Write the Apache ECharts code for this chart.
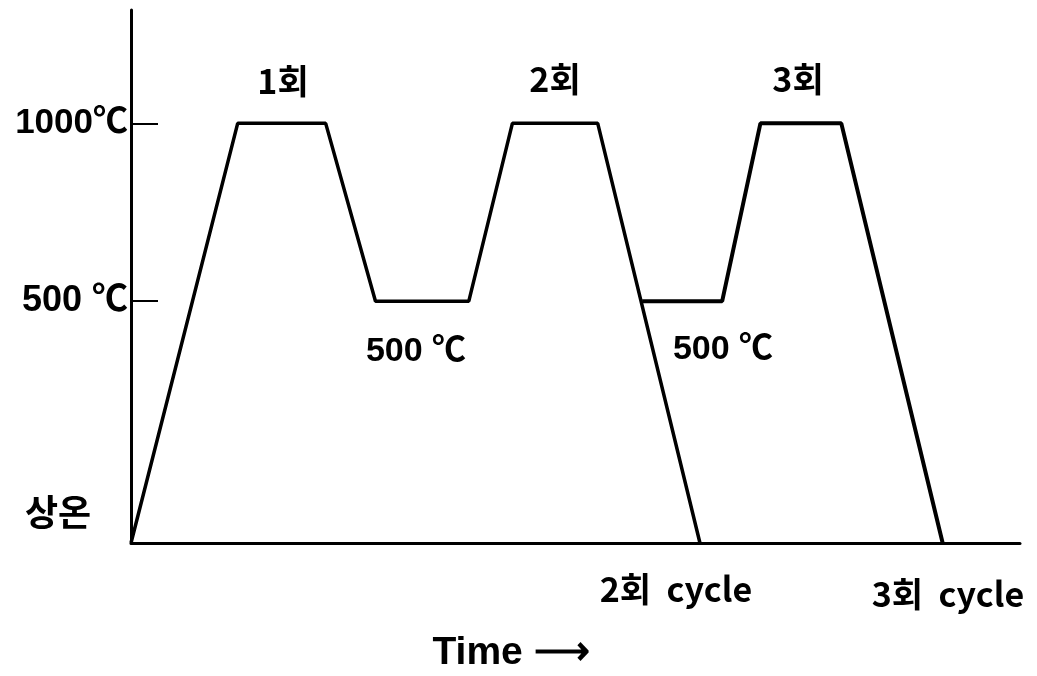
<!DOCTYPE html>
<html>
<head>
<meta charset="utf-8">
<script src="https://cdn.jsdelivr.net/npm/echarts@6/dist/echarts.min.js"></script>
<style>html,body{margin:0;padding:0;background:#fff;}#c{width:1037px;height:676px;}</style>
</head>
<body>
<div id="c"></div>
<script>
// time axis (arbitrary units), temperatures in °C
const roomTemp = 20;
const cycle2Time = [0, 12.0, 21.9, 27.5, 38.0, 42.9, 52.5, 64.0];
const cycle2Temp = [roomTemp, 1000, 1000, 500, 500, 1000, 1000, roomTemp];
const cycle3Time = [57.5, 66.5, 70.8, 79.9, 91.3];
const cycle3Temp = [500, 500, 1000, 1000, roomTemp];
const yTickValues = [500, 1000];
const yTickLabels = ['{b|500 ℃}', '{a|1000℃}'];

const FONT = '"Liberation Sans", "Noto Sans CJK KR", sans-serif';
const KFONT = '"Noto Sans CJK KR", "Liberation Sans", sans-serif';

const chart = echarts.init(document.getElementById('c'));
function txt(x, y, s, size, align, fam, weight) {
  return { type: 'text', x: x, y: y, style: { text: s, fill: '#000', font: (weight || 'bold') + ' ' + size + 'px ' + (fam || FONT), textAlign: align || 'center', textVerticalAlign: 'middle' } };
}
chart.setOption({
  animation: false,
  backgroundColor: '#fff',
  grid: { left: 131, right: 17, top: 10, bottom: 133 },
  xAxis: {
    type: 'value', min: 0, max: 100,
    axisLine: { show: true, onZero: false, lineStyle: { color: '#000', width: 3 } },
    axisTick: { show: false }, axisLabel: { show: false }, splitLine: { show: false }
  },
  yAxis: [{
    type: 'value', min: roomTemp, max: 1225,
    breaks: [{ start: 600, end: 900, gap: 153 }],
    breakArea: { show: false },
    axisLine: { show: false },
    axisTick: { show: true, inside: true, length: 27, customValues: yTickValues, lineStyle: { color: '#000', width: 2 } },
    axisLabel: {
      show: true, customValues: yTickValues, margin: 3,
      formatter: function (v) { return yTickLabels[yTickValues.indexOf(v)] || ''; },
      color: '#000',
      rich: {
        a: { fontSize: 35, fontWeight: 'bold', fontFamily: FONT, color: '#000' },
        b: { fontSize: 36, fontWeight: 'bold', fontFamily: FONT, color: '#000' }
      }
    },
    splitLine: { show: false }
  }, {
    type: 'value', position: 'left', min: 0, max: 1,
    axisLine: { show: true, onZero: false, lineStyle: { color: '#000', width: 3 } },
    axisTick: { show: false }, axisLabel: { show: false }, splitLine: { show: false }
  }],
  series: [
    { type: 'line', name: '2회 cycle', data: cycle2Time.map((t, i) => [t, cycle2Temp[i]]), symbol: 'none', lineStyle: { color: '#000', width: 3.5 } },
    { type: 'line', name: '3회 cycle', data: cycle3Time.map((t, i) => [t, cycle3Temp[i]]), symbol: 'none', lineStyle: { color: '#000', width: 4 } }
  ],
  graphic: [
    txt(58, 512, '상온', 36, 'center', KFONT),
    txt(283, 81, '1회', 34, 'center', KFONT),
    txt(555, 79, '2회', 34, 'center', KFONT),
    txt(798, 79, '3회', 34, 'center', KFONT),
    txt(416, 352, '500 ℃', 34),
    txt(723, 350, '500 ℃', 34),
    txt(676, 589, '2회  cycle', 34, 'center', KFONT),
    txt(948, 594, '3회  cycle', 34, 'center', KFONT),
    txt(511, 653, 'Time ⟶', 39, 'center', FONT)
  ]
});
</script>
</body>
</html>
